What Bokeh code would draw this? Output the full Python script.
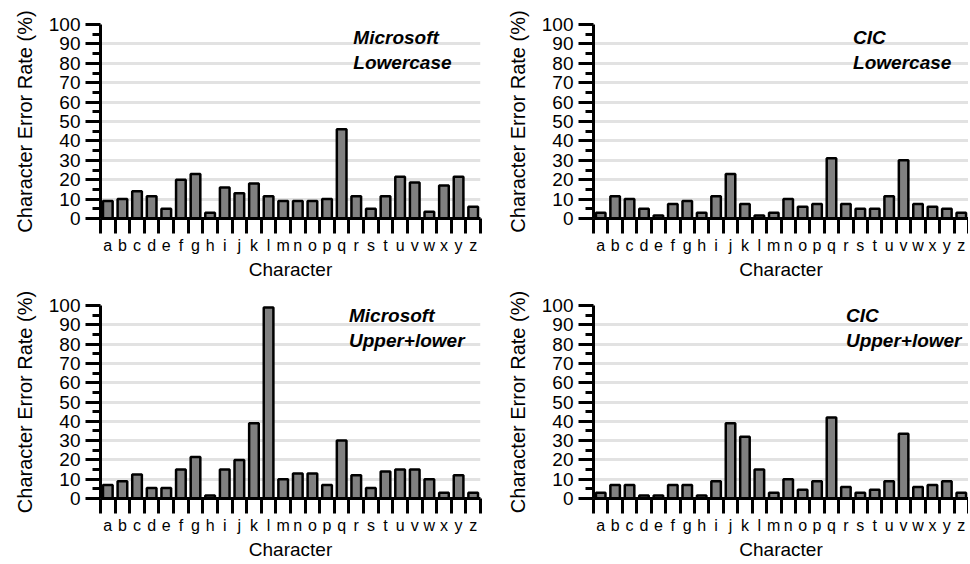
from bokeh.plotting import figure
from bokeh.layouts import gridplot
from bokeh.models import FixedTicker, CustomJSTickFormatter, Label, Range1d, ColumnDataSource
from bokeh.embed import file_html
from bokeh.resources import INLINE

letters = list("abcdefghijklmnopqrstuvwxyz")

ms_lower = [9, 10, 14, 11.5, 5, 20, 23, 3, 16, 13, 18, 11.5, 9, 9, 9, 10, 46, 11.5, 5, 11.5, 21.5, 18.5, 3.5, 17, 21.5, 6]
cic_lower = [3, 11.5, 10, 5, 1.5, 7.5, 9, 3, 11.5, 23, 7.5, 1.5, 3, 10, 6, 7.5, 31, 7.5, 5, 5, 11.5, 30, 7.5, 6, 5, 3]
ms_upper = [7, 9, 12.5, 5.5, 5.5, 15, 21.5, 1.5, 15, 20, 39, 99, 10, 13, 13, 7, 30, 12, 5.5, 14, 15, 15, 10, 3, 12, 3]
cic_upper = [3, 7, 7, 1.5, 1.5, 7, 7, 1.5, 9, 39, 32, 15, 3, 10, 4.5, 9, 42, 6, 3, 4.5, 9, 33.5, 6, 7, 9, 3]

y_ticks = list(range(0, 101, 10))
y_minor = list(range(5, 100, 10))

titles = [("Microsoft", "Lowercase"), ("CIC", "Lowercase"),
          ("Microsoft", "Upper+lower"), ("CIC", "Upper+lower")]

FONT = "Liberation Sans"


def make_panel(values, title, width, height, mb_left, mb_right, mb_top, mb_bottom, lab_x, lab_y):
    n = len(letters)
    xs = [i + 0.5 for i in range(n)]
    src = ColumnDataSource(dict(x=xs, top=values, letter=letters))
    p = figure(width=width, height=height, output_backend="svg", toolbar_location=None,
               x_range=Range1d(0, n), y_range=Range1d(0, 100),
               min_border_left=mb_left, min_border_right=mb_right,
               min_border_top=mb_top, min_border_bottom=mb_bottom)
    p.outline_line_color = None
    p.background_fill_color = "white"
    p.border_fill_color = "white"
    p.xgrid.grid_line_color = None
    p.ygrid.grid_line_color = "#e2e2e2"
    p.ygrid.grid_line_width = 3
    p.ygrid.ticker = FixedTicker(ticks=y_ticks)

    p.vbar(x="x", top="top", bottom=0, width=0.66, source=src,
           fill_color="#808080", line_color="black", line_width=2.5)

    # x axis: labels at band centres, boundary ticks as minor ticks
    xa = p.xaxis[0]
    xa.ticker = FixedTicker(ticks=xs, minor_ticks=list(range(n + 1)))
    xa.formatter = CustomJSTickFormatter(args=dict(labels=letters),
                                         code="return labels[Math.floor(tick)];")
    xa.major_tick_out = 15
    xa.major_tick_in = 0
    xa.major_tick_line_color = None
    xa.minor_tick_out = 15
    xa.minor_tick_in = 0
    xa.minor_tick_line_width = 3
    xa.minor_tick_line_color = "black"
    xa.axis_line_width = 3
    xa.axis_line_color = "black"
    xa.major_label_standoff = 3
    xa.major_label_text_font = FONT
    xa.major_label_text_font_size = "16px"
    xa.major_label_text_color = "black"
    xa.axis_label = "Character"
    xa.axis_label_text_font = FONT
    xa.axis_label_text_font_size = "19px"
    xa.axis_label_text_font_style = "normal"
    xa.axis_label_text_color = "black"
    xa.axis_label_standoff = 2

    ya = p.yaxis[0]
    ya.ticker = FixedTicker(ticks=y_ticks, minor_ticks=y_minor)
    ya.major_tick_out = 15
    ya.major_tick_in = 0
    ya.major_tick_line_width = 3
    ya.major_tick_line_color = "black"
    ya.minor_tick_out = 8
    ya.minor_tick_in = 0
    ya.minor_tick_line_width = 3
    ya.minor_tick_line_color = "black"
    ya.axis_line_width = 3
    ya.axis_line_color = "black"
    ya.major_label_standoff = 5
    ya.major_label_text_font = FONT
    ya.major_label_text_font_size = "19px"
    ya.major_label_text_color = "black"
    ya.axis_label = "Character Error Rate (%)"
    ya.axis_label_text_font = FONT
    ya.axis_label_text_font_size = "20px"
    ya.axis_label_text_font_style = "normal"
    ya.axis_label_text_color = "black"
    ya.axis_label_standoff = 10

    for k, line in enumerate(title):
        p.add_layout(Label(x=lab_x, y=lab_y[k], text=line, text_font=FONT,
                           text_font_size="19px", text_font_style="bold italic",
                           text_color="black", text_baseline="middle", text_align="left"))
    return p


p1 = make_panel(ms_lower, titles[0], 493, 282, 100, 13, 24, 64, 17.3, (93.3, 80.4))
p2 = make_panel(cic_lower, titles[1], 475, 282, 100, 0, 24, 64, 18.0, (93.3, 80.4))
p3 = make_panel(ms_upper, titles[2], 493, 280, 100, 13, 23, 62, 17.0, (94.9, 82.1))
p4 = make_panel(cic_upper, titles[3], 475, 280, 100, 0, 23, 62, 17.5, (94.9, 82.1))

grid = gridplot([[p1, p2], [p3, p4]], toolbar_location=None)

open("out.html", "w").write(file_html(grid, INLINE))
